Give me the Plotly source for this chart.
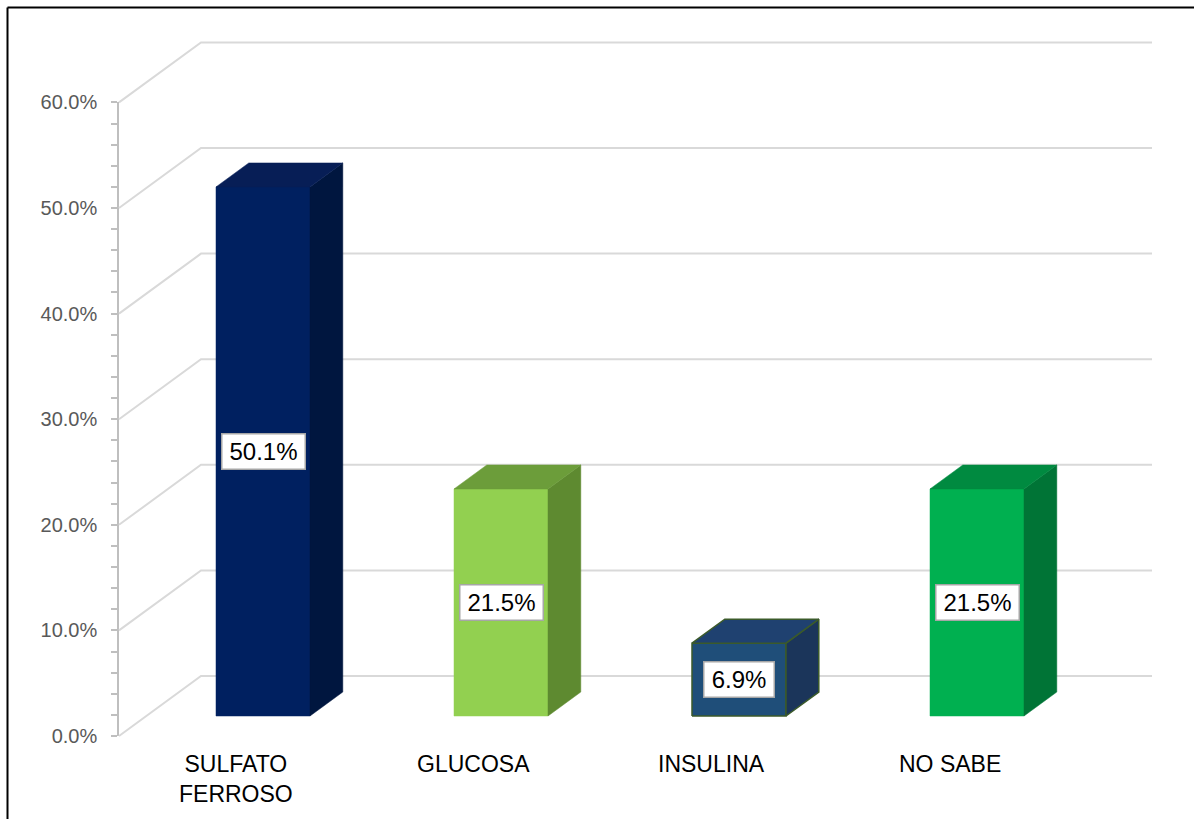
import plotly.graph_objects as go

# ---------------- data ----------------
categories = ["SULFATO FERROSO", "GLUCOSA", "INSULINA", "NO SABE"]
category_labels = ["SULFATO<br>FERROSO", "GLUCOSA", "INSULINA", "NO SABE"]
values = [50.1, 21.5, 6.9, 21.5]
y_ticks = [0, 10, 20, 30, 40, 50, 60]

# ---------------- style ----------------
front_colors = ["#002060", "#92D050", "#1F4E79", "#00B050"]
top_colors = ["#071E56", "#6C9D3A", "#1F4170", "#008A40"]
side_colors = ["#00163F", "#5E8A30", "#1B355A", "#007436"]
edge_colors = [None, None, "#3B5A2A", None]
FONT = "Arial, Liberation Sans, sans-serif"
GRID = "#D9D9D9"
LABEL_SIZE = 24

W, H = 1194, 819
PX_X0 = 263.0        # pixel of category 0 (front face centre)
PX_PER_CAT = 238.0
PX_Y0 = 736.0        # pixel of 0 % on the front axis
PX_PER_PCT = 10.56

DX = 82 / PX_PER_CAT     # full depth shift (x units)
DY = 60 / PX_PER_PCT     # full depth shift (percent units)
D0 = 1 / 3               # bar front depth
D1 = D0 + 0.40           # bar back depth
BAR_W = 94 / PX_PER_CAT
AXIS_X = (119 - PX_X0) / PX_PER_CAT
WALL_RIGHT = (1152 - PX_X0) / PX_PER_CAT - DX

ARIAL_W = {"0": .556, "1": .556, "2": .556, "3": .556, "4": .556, "5": .556,
           "6": .556, "7": .556, "8": .556, "9": .556, ".": .278, "%": .889}


def proj(x, y, d):
    return x + d * DX, y + d * DY


def text_px(s, size):
    return sum(ARIAL_W.get(c, .6) for c in s) * size


fig = go.Figure()

# invisible trace so the axis subplot exists
fig.add_trace(go.Scatter(x=[0.5], y=[0], mode="markers", marker=dict(opacity=0),
                         hoverinfo="skip", showlegend=False, xaxis="x", yaxis="y"))

# gridlines (left wall diagonals + back wall)
gx, gy = [], []
for t in y_ticks:
    for (x, d) in [(AXIS_X, 0), (AXIS_X, 1), (WALL_RIGHT, 1)]:
        px, py = proj(x, t, d)
        gx.append(px)
        gy.append(py)
    gx.append(None)
    gy.append(None)
fig.add_trace(go.Scatter(x=gx, y=gy, mode="lines", line=dict(color=GRID, width=2),
                         hoverinfo="skip", showlegend=False, xaxis="x2", yaxis="y2"))

annotations = []
for i, (cat, lab, v) in enumerate(zip(categories, category_labels, values)):
    cx = i - D0 * DX
    xl, xr = cx - BAR_W / 2, cx + BAR_W / 2
    faces = [
        ([(xl, 0, D0), (xr, 0, D0), (xr, v, D0), (xl, v, D0)], front_colors[i]),
        ([(xr, 0, D0), (xr, 0, D1), (xr, v, D1), (xr, v, D0)], side_colors[i]),
        ([(xl, v, D0), (xr, v, D0), (xr, v, D1), (xl, v, D1)], top_colors[i]),
    ]
    for pts, col in faces:
        xs, ys = zip(*[proj(*p) for p in pts])
        xs = list(xs) + [xs[0]]
        ys = list(ys) + [ys[0]]
        ec = edge_colors[i]
        fig.add_trace(go.Scatter(
            x=xs, y=ys, mode="lines", fill="toself", fillcolor=col,
            line=dict(color=ec if ec else col, width=1.5 if ec else 0.5),
            name=cat, hoverinfo="skip", showlegend=False, xaxis="x2", yaxis="y2"))
    # data label
    txt = f"{v:.1f}%"
    annotations.append(dict(
        x=i, y=v / 2 + D0 * DY, xref="x2", yref="y2", text=txt,
        showarrow=False, font=dict(family=FONT, size=LABEL_SIZE, color="black"),
        width=round(text_px(txt, LABEL_SIZE) + 8), height=28, align="center",
        valign="middle",
        bgcolor="white", bordercolor="#A6A6A6", borderwidth=1.5, borderpad=3))
    # category label
    annotations.append(dict(
        x=cx, y=(PX_Y0 - 749) / PX_PER_PCT, xref="x2", yref="y2", text=lab,
        showarrow=False, yanchor="top", xanchor="center",
        font=dict(family=FONT, size=23, color="black")))

shapes = [
    dict(type="line", xref="paper", yref="paper", x0=7.5 / W, x1=7.5 / W,
         y0=-0.05, y1=1 - 7.5 / H, line=dict(color="black", width=2)),
    dict(type="line", xref="paper", yref="paper", x0=7.5 / W, x1=1.05,
         y0=1 - 7.5 / H, y1=1 - 7.5 / H, line=dict(color="black", width=2)),
]

fig.update_layout(
    width=W, height=H,
    margin=dict(l=0, r=0, t=0, b=0, autoexpand=False),
    paper_bgcolor="white", plot_bgcolor="rgba(0,0,0,0)",
    showlegend=False,
    xaxis=dict(domain=[119 / W, 0.2], range=[0, 1], visible=False, fixedrange=True),
    yaxis=dict(domain=[(H - PX_Y0) / H, (H - (PX_Y0 - 60 * PX_PER_PCT)) / H],
               range=[0, 60], anchor="x", showline=True, linecolor="#BFBFBF",
               linewidth=1.5, ticks="outside", ticklen=6, tickwidth=1.5,
               tickcolor="#BFBFBF", tickmode="linear", tick0=0, dtick=10,
               tickformat=".1f", ticksuffix="%", ticklabelstandoff=10,
               tickfont=dict(family=FONT, size=20, color="#595959"),
               showgrid=False, zeroline=False, automargin=False,
               minor=dict(dtick=2, tick0=0, ticks="outside", ticklen=6,
                          tickcolor="#BFBFBF", tickwidth=1.5, showgrid=False)),
    xaxis2=dict(domain=[0, 1], anchor="y2",
                range=[(0 - PX_X0) / PX_PER_CAT, (W - PX_X0) / PX_PER_CAT],
                visible=False, fixedrange=True),
    yaxis2=dict(domain=[0, 1], anchor="x2",
                range=[(PX_Y0 - H) / PX_PER_PCT, PX_Y0 / PX_PER_PCT],
                visible=False, fixedrange=True),
    annotations=annotations,
    shapes=shapes,
)

fig.write_html("out.html")
